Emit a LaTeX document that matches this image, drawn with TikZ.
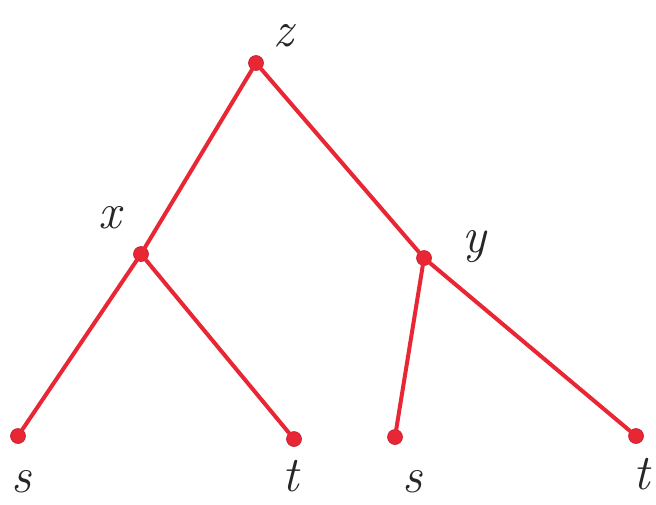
\documentclass[tikz,border=0pt]{standalone}
\definecolor{treered}{RGB}{232,38,52}
\begin{document}
\begin{tikzpicture}[x=1pt,y=-1pt,
  edge/.style={draw=treered,line width=4pt,line cap=round},
  dot/.style={circle,fill=treered,draw=treered!80!black,line width=0.6pt,minimum size=15pt,inner sep=0pt},
  lab/.style={text=black!85,font=\fontsize{50}{50}\selectfont\itshape,inner sep=0pt}]
\useasboundingbox (0,0) rectangle (656,504);
\node[dot] (z) at (256,63) {};
\node[dot] (x) at (141,254) {};
\node[dot] (y) at (424,258) {};
\node[dot] (s1) at (18,436) {};
\node[dot] (t1) at (294,439) {};
\node[dot] (s2) at (395,437) {};
\node[dot] (t2) at (636,436) {};
\draw[edge] (z) -- (x);
\draw[edge] (z) -- (y);
\draw[edge] (x) -- (s1);
\draw[edge] (x) -- (t1);
\draw[edge] (y) -- (s2);
\draw[edge] (y) -- (t2);
\node[lab] (lz) at (283,36) {z};
\node[lab] (lx) at (110,218) {x};
\node[lab] (ly) at (474,247) {y};
\node[lab] (ls1) at (22,482) {s};
\node[lab] (lt1) at (291,476) {t};
\node[lab] (ls2) at (412,482) {s};
\node[lab] (lt2) at (642,474) {t};
\end{tikzpicture}
\end{document}
